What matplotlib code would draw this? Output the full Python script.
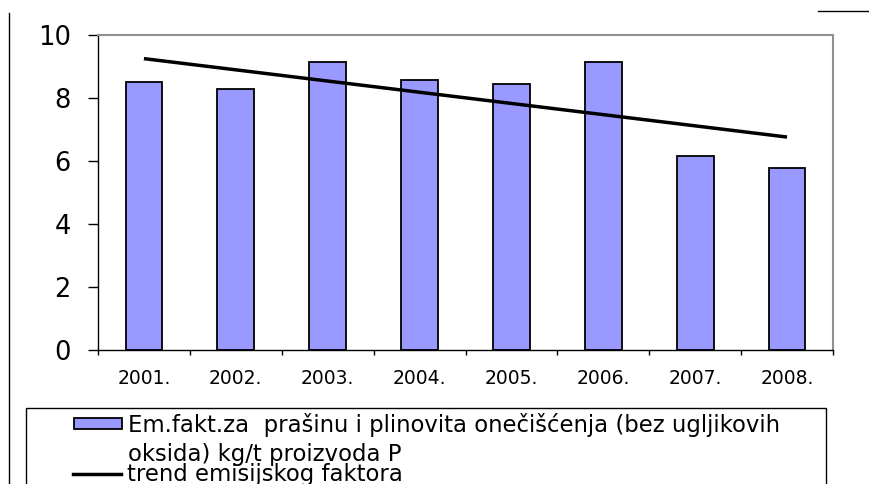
import matplotlib
matplotlib.use("Agg")
import matplotlib.pyplot as plt
from matplotlib.patches import Patch, Rectangle
from matplotlib.lines import Line2D
import numpy as np

plt.rcParams['font.family'] = ['DejaVu Sans']

years = ["2001.", "2002.", "2003.", "2004.", "2005.", "2006.", "2007.", "2008."]
emission = [8.51, 8.29, 9.14, 8.57, 8.44, 9.14, 6.16, 5.78]
trend_x = [0, 7]
trend_y = [9.25, 6.76]
y_ticks = [0, 2, 4, 6, 8, 10]
legend_labels = ["Em.fakt.za  prašinu i plinovita onečišćenja (bez ugljikovih",
                 "oksida) kg/t proizvoda P",
                 "trend emisijskog faktora"]

fig = plt.figure(figsize=(8.69, 4.84), dpi=100)
ax = fig.add_axes([98/869, 1-350/484, (833-98)/869, (350-35)/484])

x = np.arange(len(years))
ax.bar(x, emission, width=0.4, color="#9999FF", edgecolor="black", linewidth=1.3, zorder=2)
ax.plot(trend_x, trend_y, color="black", linewidth=2.5, zorder=3, solid_capstyle='butt')

ax.set_xlim(-0.5, len(years)-0.5)
ax.set_ylim(0, 10)
ax.set_yticks(y_ticks)
ax.set_yticklabels([str(t) for t in y_ticks], fontsize=18.5)
ax.tick_params(axis='y', direction='out', length=7.5, width=1, pad=12)

ax.set_xticks(np.arange(len(years)+1) - 0.5, minor=False)
ax.set_xticklabels([])
ax.set_xticks(x, minor=True)
ax.set_xticklabels(years, minor=True, fontsize=13.5)
ax.tick_params(axis='x', which='major', direction='out', length=3.5, width=1)
ax.tick_params(axis='x', which='minor', length=0, pad=14)

for s in ['left', 'bottom']:
    ax.spines[s].set_color('black')
    ax.spines[s].set_linewidth(1)
for s in ['top', 'right']:
    ax.spines[s].set_color('#909090')
    ax.spines[s].set_linewidth(1.5)

# legend frame box (extends below the figure edge, as in the reference)
fig.add_artist(Rectangle((26/869, -0.05), 800/869, 1-408/484+0.05,
                         transform=fig.transFigure, facecolor='white',
                         edgecolor='black', linewidth=1, zorder=4))

leg_kw = dict(frameon=False, fontsize=16.4, handlelength=2.1, handleheight=0.36,
              handletextpad=0.27, borderpad=0, borderaxespad=0, loc='upper left')

handles_a = [Patch(facecolor="#9999FF", edgecolor="black", linewidth=1.3),
             Patch(facecolor='none', edgecolor='none')]
leg_a = fig.legend(handles_a, legend_labels[:2], bbox_to_anchor=(74/869, 1-413/484),
                   labelspacing=0.27, **leg_kw)
leg_a.set_zorder(5)

handles_b = [Line2D([0], [0], color='black', linewidth=2.5)]
leg_b = fig.legend(handles_b, legend_labels[2:], bbox_to_anchor=(73/869, 1-463/484),
                   **leg_kw)
leg_b.set_zorder(5)

fig.add_artist(Line2D([9/869, 9/869], [0, 1-13/484], color='black', linewidth=1))
fig.add_artist(Line2D([818/869, 1], [1-11/484, 1-11/484], color='black', linewidth=1))

fig.savefig("out.png", dpi=100)
